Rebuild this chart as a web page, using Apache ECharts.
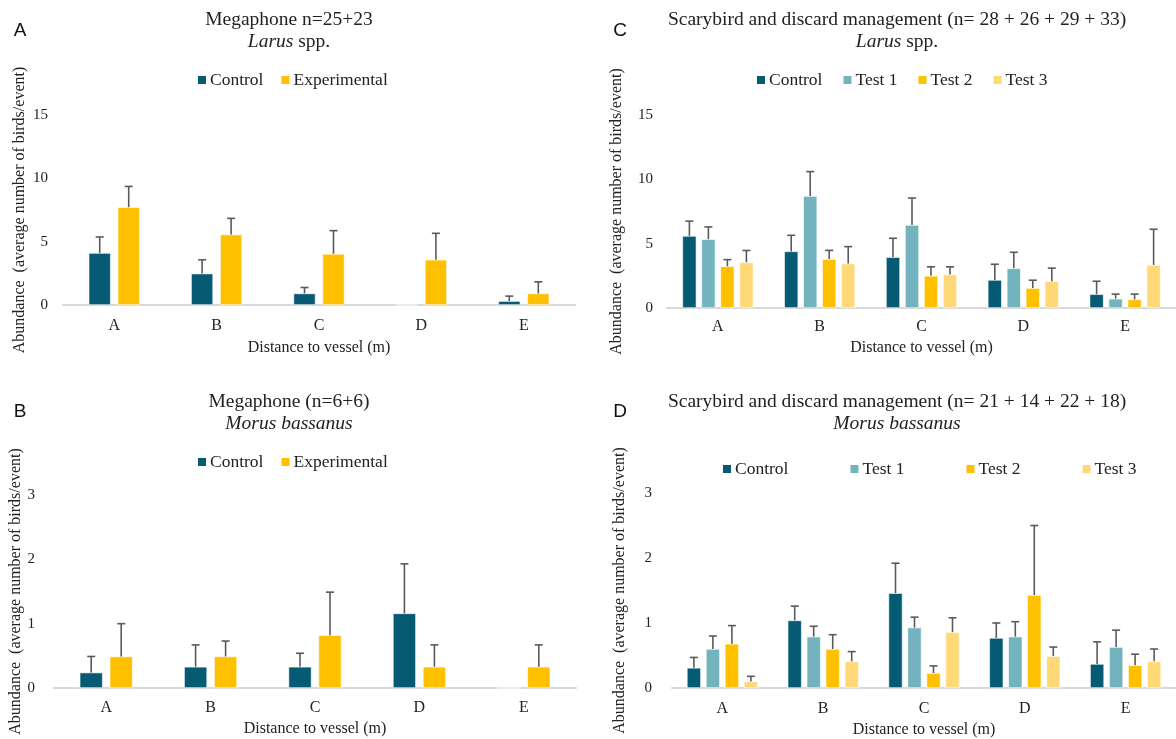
<!DOCTYPE html>
<html>
<head>
<meta charset="utf-8">
<script src="https://cdn.jsdelivr.net/npm/echarts@6/dist/echarts.min.js"></script>
<style>
html,body{margin:0;padding:0;background:#fff;}
#chart{width:1176px;height:739px;}
</style>
</head>
<body>
<div id="chart"></div>
<script>
// ---------- data ----------
const categories = ['A', 'B', 'C', 'D', 'E'];
const yTicksTop = [0, 5, 10, 15];
const yTicksBottom = [0, 1, 2, 3];

// Panel A: Megaphone, Larus spp.
const aControl = [4.10, 2.48, 0.91, 0, 0.31];
const aControlErr = [5.37, 3.57, 1.38, null, 0.70];
const aExp = [7.72, 5.56, 4.04, 3.57, 0.91];
const aExpErr = [9.36, 6.84, 5.87, 5.66, 1.83];

// Panel B: Megaphone, Morus bassanus
const bControl = [0.24, 0.33, 0.33, 1.16, 0];
const bControlErr = [0.49, 0.67, 0.54, 1.93, null];
const bExp = [0.49, 0.49, 0.82, 0.33, 0.33];
const bExpErr = [1.00, 0.73, 1.49, 0.67, 0.67];

// Panel C: Scarybird, Larus spp.
const cControl = [5.60, 4.40, 3.95, 2.18, 1.07];
const cControlErr = [6.75, 5.65, 5.42, 3.40, 2.08];
const cTest1 = [5.35, 8.70, 6.45, 3.08, 0.72];
const cTest1Err = [6.30, 10.60, 8.55, 4.33, 1.08];
const cTest2 = [3.24, 3.80, 2.50, 1.55, 0.67];
const cTest2Err = [3.76, 4.48, 3.20, 2.16, 1.08];
const cTest3 = [3.55, 3.45, 2.60, 2.08, 3.35];
const cTest3Err = [4.47, 4.77, 3.20, 3.10, 6.12];

// Panel D: Scarybird, Morus bassanus
const dControl = [0.31, 1.04, 1.46, 0.77, 0.37];
const dControlErr = [0.47, 1.26, 1.92, 1.00, 0.71];
const dTest1 = [0.60, 0.79, 0.93, 0.79, 0.63];
const dTest1Err = [0.80, 0.95, 1.09, 1.02, 0.89];
const dTest2 = [0.68, 0.60, 0.23, 1.43, 0.35];
const dTest2Err = [0.96, 0.82, 0.34, 2.50, 0.52];
const dTest3 = [0.10, 0.41, 0.86, 0.49, 0.41];
const dTest3Err = [0.18, 0.56, 1.08, 0.63, 0.60];

// ---------- styles ----------
const COL = { control: '#065A73', test1: '#72B3BD', exp: '#FFC000', test3: '#FFD978' };
const SERIF = '"Liberation Serif", "Times New Roman", serif';
const SANS = '"Liberation Sans", Arial, sans-serif';
const TXT = '#222';
const ERR = '#5a5a5a';

const panels = [
  { key: 'A', left: 63, top: 115, width: 512, height: 190, max: 15, interval: 5,
    t1: 'Megaphone n=25+23', t2: '{i|Larus} spp.', tx: 289, ty: 10, letterX: 20, letterY: 21,
    legendLeft: 196, legendTop: 71, legendGap: 16,
    yLabelMargin: 15, xLabelMargin: 13, xNameGap: 35, yNameGap: 35,
    barW: 22, gap: 7,
    series: [['Control', aControl, aControlErr, COL.control], ['Experimental', aExp, aExpErr, COL.exp]] },
  { key: 'B', left: 54, top: 495, width: 522, height: 193, max: 3, interval: 1,
    t1: 'Megaphone (n=6+6)', t2: '{i|Morus bassanus}', tx: 289, ty: 392, letterX: 20, letterY: 402,
    legendLeft: 196, legendTop: 453, legendGap: 16,
    yLabelMargin: 19, xLabelMargin: 12, xNameGap: 33, yNameGap: 28,
    barW: 23, gap: 7,
    series: [['Control', bControl, bControlErr, COL.control], ['Experimental', bExp, bExpErr, COL.exp]] },
  { key: 'C', left: 667, top: 115, width: 514, height: 193, max: 15, interval: 5,
    t1: 'Scarybird and discard management (n= 28 + 26 + 29 + 33)', t2: '{i|Larus} spp.', tx: 897, ty: 10, letterX: 620, letterY: 21,
    legendLeft: 755, legendTop: 71, legendGap: 19,
    yLabelMargin: 14, xLabelMargin: 11, xNameGap: 32, yNameGap: 42,
    barW: 14, gap: 5,
    series: [['Control', cControl, cControlErr, COL.control], ['Test 1', cTest1, cTest1Err, COL.test1],
             ['Test 2', cTest2, cTest2Err, COL.exp], ['Test 3', cTest3, cTest3Err, COL.test3]] },
  { key: 'D', left: 672, top: 493, width: 512, height: 195, max: 3, interval: 1,
    t1: 'Scarybird and discard management (n= 21 + 14 + 22 + 18)', t2: '{i|Morus bassanus}', tx: 897, ty: 392, letterX: 620, letterY: 402,
    legendLeft: 721, legendTop: 460, legendGap: 60,
    yLabelMargin: 20, xLabelMargin: 13, xNameGap: 34, yNameGap: 44,
    barW: 14, gap: 5,
    series: [['Control', dControl, dControlErr, COL.control], ['Test 1', dTest1, dTest1Err, COL.test1],
             ['Test 2', dTest2, dTest2Err, COL.exp], ['Test 3', dTest3, dTest3Err, COL.test3]] }
];

const option = {
  animation: false,
  backgroundColor: '#fff',
  title: [], legend: [], grid: [], xAxis: [], yAxis: [], series: []
};

function errRender(n, idx, barW, gap) {
  return function (params, api) {
    const top = api.value(2);
    if (top === null || top === undefined || isNaN(top)) return null;
    const c = api.value(0);
    const p0 = api.coord([c, api.value(1)]);
    const p1 = api.coord([c, top]);
    const x = p0[0] + (idx - (n - 1) / 2) * (barW + gap);
    const st = { stroke: ERR, lineWidth: 1.6 };
    return { type: 'group', children: [
      { type: 'line', shape: { x1: x, y1: p0[1], x2: x, y2: p1[1] }, style: st },
      { type: 'line', shape: { x1: x - 4, y1: p1[1], x2: x + 4, y2: p1[1] }, style: st }
    ] };
  };
}

panels.forEach((p, gi) => {
  option.title.push({ text: p.t1, left: p.tx, top: p.ty, textAlign: 'center', padding: 0,
    textStyle: { fontFamily: SERIF, fontSize: 19.5, fontWeight: 'normal', color: TXT } });
  option.title.push({ text: p.t2, left: p.tx, top: p.ty + 22, textAlign: 'center', padding: 0,
    textStyle: { fontFamily: SERIF, fontSize: 19.5, fontWeight: 'normal', color: TXT,
      rich: { i: { fontFamily: SERIF, fontSize: 19.5, fontStyle: 'italic', color: TXT } } } });
  option.title.push({ text: p.key, left: p.letterX, top: p.letterY, textAlign: 'center', padding: 0,
    textStyle: { fontFamily: SANS, fontSize: 19, fontWeight: 'normal', color: '#111' } });

  option.legend.push({
    data: p.series.map(s => s[0]), left: p.legendLeft, top: p.legendTop, padding: 0,
    itemWidth: 10, itemHeight: 10, itemGap: p.legendGap, icon: 'rect', selectedMode: false,
    textStyle: { fontFamily: SERIF, fontSize: 17.5, color: TXT, padding: [0, 0, 0, -2] }
  });

  option.grid.push({ left: p.left, top: p.top, width: p.width, height: p.height, containLabel: false });

  option.xAxis.push({
    type: 'category', gridIndex: gi, data: categories,
    name: 'Distance to vessel (m)', nameLocation: 'middle', nameGap: p.xNameGap,
    nameTextStyle: { fontFamily: SERIF, fontSize: 16, color: TXT },
    axisLine: { lineStyle: { color: '#D9D9D9', width: 2 } },
    axisTick: { show: false },
    axisLabel: { fontFamily: SERIF, fontSize: 16, color: TXT, margin: p.xLabelMargin }
  });

  option.yAxis.push({
    type: 'value', gridIndex: gi, min: 0, max: p.max, interval: p.interval,
    name: 'Abundance  (average number of birds/event)', nameLocation: 'middle', nameGap: p.yNameGap,
    nameRotate: 90,
    nameTextStyle: { fontFamily: SERIF, fontSize: 16, color: TXT },
    axisLine: { show: false }, axisTick: { show: false }, splitLine: { show: false },
    axisLabel: { fontFamily: SERIF, fontSize: 15, color: TXT, margin: p.yLabelMargin }
  });

  const n = p.series.length;
  p.series.forEach((s, si) => {
    option.series.push({
      type: 'bar', name: s[0], xAxisIndex: gi, yAxisIndex: gi, data: s[1],
      barWidth: p.barW, barGap: (p.gap / p.barW * 100).toFixed(1) + '%',
      itemStyle: { color: s[3], borderColor: '#ffffff', borderWidth: 0.6 },
      z: 2
    });
  });
  p.series.forEach((s, si) => {
    option.series.push({
      type: 'custom', name: s[0] + ' error ' + p.key, xAxisIndex: gi, yAxisIndex: gi,
      renderItem: errRender(n, si, p.barW, p.gap),
      data: s[1].map((v, i) => [i, v, s[2][i] === null ? NaN : s[2][i]]),
      encode: { x: 0, y: [1, 2] }, z: 3, silent: true
    });
  });
});

const chart = echarts.init(document.getElementById('chart'), null, { renderer: 'canvas' });
chart.setOption(option);
</script>
</body>
</html>
